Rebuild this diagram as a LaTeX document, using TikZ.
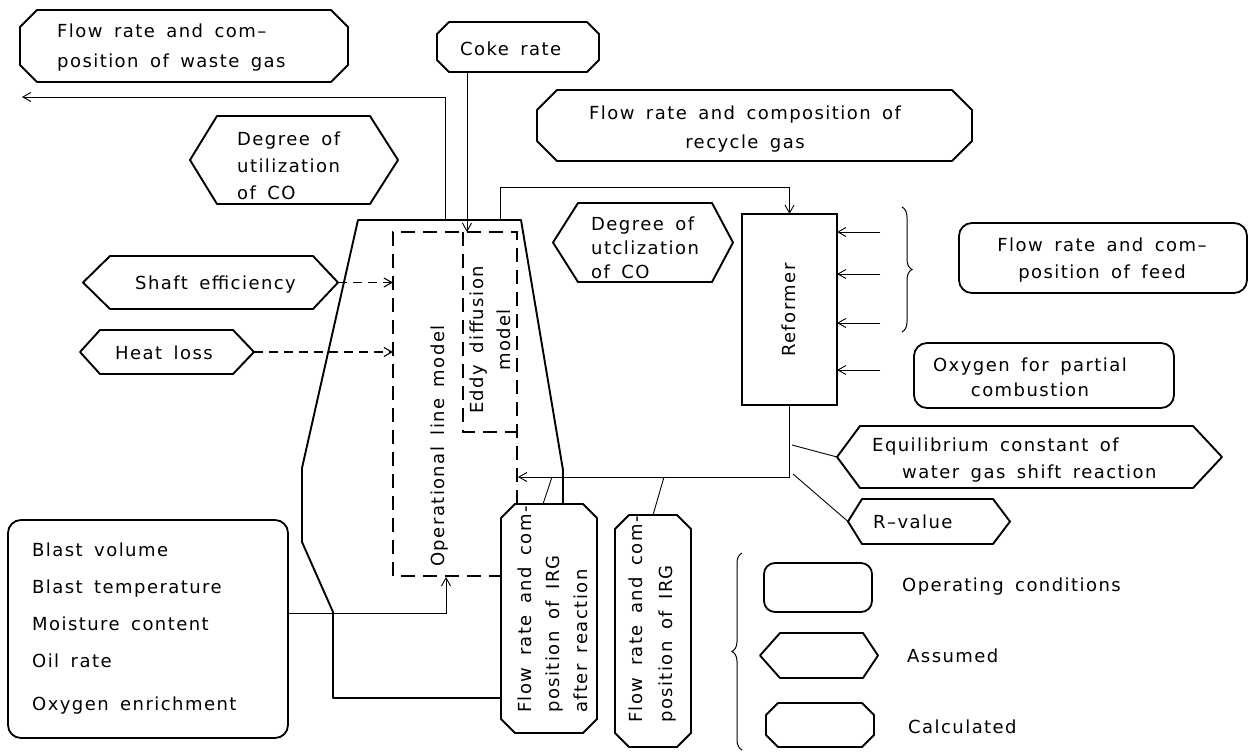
\documentclass[tikz,border=0pt]{standalone}
\usepackage{fontspec}
\setmainfont{DejaVu Sans}[LetterSpace=8,WordSpace=1.6]
\usetikzlibrary{arrows.meta,decorations.pathreplacing,calc}
\tikzset{
  box/.style={inner sep=0pt, outer sep=0pt},
  opbox/.style={box, draw, line width=1.8pt, rounded corners=13pt},
  outline/.style={line width=1.9pt, line join=round},
  conn/.style={line width=0.9pt},
  arr/.style={conn, -{Straight Barb[length=8pt,width=9pt]}},
  dasharr/.style={line width=1.1pt, dash pattern=on 9pt off 6pt, -{Straight Barb[length=8pt,width=9pt]}},
  modelline/.style={line width=2pt, dash pattern=on 14pt off 8pt},
  txt/.style={inner sep=0pt, align=left},
  brc/.style={line width=1pt, decorate, decoration={brace, amplitude=10pt}},
}
\newcommand\octobox[2]{\draw[outline] ([xshift=#2]#1.north west) -- ([xshift=-#2]#1.north east) -- ([yshift=-#2]#1.north east) -- ([yshift=#2]#1.south east) -- ([xshift=-#2]#1.south east) -- ([xshift=#2]#1.south west) -- ([yshift=#2]#1.south west) -- ([yshift=-#2]#1.north west) -- cycle;}
\newcommand\hexbox[3]{\draw[outline] ([xshift=#2]#1.north west) -- ([xshift=-#3]#1.north east) -- (#1.east) -- ([xshift=-#3]#1.south east) -- ([xshift=#2]#1.south west) -- (#1.west) -- cycle;}
\begin{document}
\begin{tikzpicture}[x=1pt,y=-1pt,font=\fontsize{18}{27}\selectfont]
\useasboundingbox (0,0) rectangle (1250,752);

% ---------- box frames ----------
\node[box, minimum width=328pt, minimum height=72pt] (waste) at (184,46) {};
\octobox{waste}{17pt}
\node[box, minimum width=162pt, minimum height=50pt] (coke) at (518,47) {};
\octobox{coke}{12pt}
\node[box, minimum width=435pt, minimum height=71pt] (recycle) at (754.5,125.5) {};
\octobox{recycle}{20pt}
\node[box, minimum width=208pt, minimum height=88pt] (utilL) at (294,160) {};
\hexbox{utilL}{27pt}{28pt}
\node[box, minimum width=180pt, minimum height=79pt] (utilR) at (643,242.5) {};
\hexbox{utilR}{25pt}{21pt}
\node[box, minimum width=255pt, minimum height=53pt] (shaft) at (210.5,282.5) {};
\hexbox{shaft}{27pt}{25pt}
\node[box, minimum width=174pt, minimum height=44pt] (heat) at (167,352) {};
\hexbox{heat}{20pt}{21pt}
\node[opbox, minimum width=280pt, minimum height=218pt] (blast) at (148,629) {};
\node[box, draw, line width=1.9pt, minimum width=95pt, minimum height=191pt] (reformer) at (789.5,309.5) {};
\node[opbox, minimum width=288pt, minimum height=70pt] (feed) at (1103,258) {};
\node[opbox, minimum width=260pt, minimum height=65pt] (oxygen) at (1044,375.5) {};
\node[box, minimum width=385pt, minimum height=62pt] (equil) at (1029.5,457) {};
\hexbox{equil}{23pt}{29pt}
\node[box, minimum width=162pt, minimum height=45pt] (rval) at (929,521.5) {};
\hexbox{rval}{14pt}{17pt}
\node[box, minimum width=96pt, minimum height=229pt] (irgA) at (549,618.5) {};
\octobox{irgA}{14pt}
\node[box, minimum width=76pt, minimum height=232pt] (irg) at (653,631) {};
\octobox{irg}{14pt}
% legend
\node[opbox, rounded corners=11pt, minimum width=108pt, minimum height=49pt] (legop) at (818,587.5) {};
\node[box, minimum width=118pt, minimum height=45pt] (legas) at (819,655.5) {};
\hexbox{legas}{20pt}{15pt}
\node[box, minimum width=108pt, minimum height=44pt] (legcalc) at (820,725) {};
\octobox{legcalc}{12pt}

% ---------- texts ----------
\node[txt, anchor=west, font=\fontsize{18}{30}\selectfont] (wasteT) at (57,48) {Flow rate and com–\\position of waste gas};
\node[txt, anchor=west] (cokeT) at (460,49) {Coke rate};
\node[txt, align=center, font=\fontsize{18}{29}\selectfont] (recycleT) at (745,129) {Flow rate and composition of\\recycle gas};
\node[txt, anchor=west] (utilLT) at (237,166) {Degree of\\utilization\\of CO};
\node[txt, anchor=west, font=\fontsize{18}{24}\selectfont] (utilRT) at (591,248) {Degree of\\utclization\\of CO};
\node[txt, anchor=west] (shaftT) at (135,285) {Shaft efficiency};
\node[txt, anchor=west] (heatT) at (115,353) {Heat loss};
\node[txt, anchor=west, font=\fontsize{18}{37}\selectfont] (blastT) at (32,629) {Blast volume\\Blast temperature\\Moisture content\\Oil rate\\[6pt]Oxygen enrichment};
\node[txt, rotate=90] (reformerT) at (789,310) {Reformer};
\node[txt, align=center] (feedT) at (1102,260) {Flow rate and com–\\position of feed};
\node[txt, align=center, font=\fontsize{18}{25}\selectfont] (oxygenT) at (1030,377) {Oxygen for partial\\combustion};
\node[txt, anchor=west] (equilT) at (872,460) {Equilibrium constant of\\\hspace*{30pt}water gas shift reaction};
\node[txt, anchor=west] (rvalT) at (873,522) {R–value};
\node[txt, rotate=90, anchor=west, font=\fontsize{18}{28}\selectfont] (irgAT) at (553,713) {Flow rate and com-\\position of IRG\\after reaction};
\node[txt, rotate=90, anchor=west, font=\fontsize{18}{30}\selectfont] (irgT) at (653,723) {Flow rate and com-\\position of IRG};
\node[txt, rotate=90] (oplT) at (440,446) {Operational line model};
\node[txt, rotate=90, align=center] (eddyT) at (490,340) {Eddy diffusion\\model};
\node[txt, anchor=west] (legopT) at (902,587) {Operating conditions};
\node[txt, anchor=west] (legasT) at (907,656) {Assumed};
\node[txt, anchor=west] (legcalcT) at (908,727) {Calculated};

% ---------- furnace outline ----------
\coordinate (fb) at (333,698);
\coordinate (fr) at (563,470);
\draw[outline] (fb -| irgA.west) -- (fb) -- (333,612) -- (302,542) -- (302,468) -- (358,220) -- (521,220) -- (fr) -- (fr |- irgA.north);

% ---------- model boxes (dashed) ----------
\coordinate (mtl) at (393,232);
\coordinate (mtr) at (517,232);
\coordinate (mbl) at (393,576);
\draw[modelline] (mtr |- irgA.north) -- (mtr) -- (mtl) -- (mbl) -- (mbl -| irgA.west);
\coordinate (etl) at (463,232);
\coordinate (ebl) at (463,432);
\draw[modelline] (etl) -- (ebl) -- (ebl -| mtr);

% ---------- connectors ----------
\coordinate (wtop) at (445,220);
\coordinate (wout) at (22,97);
\draw[arr] (wtop) |- (wout);
\coordinate (cokein) at (467,232);
\draw[arr] (coke.south -| cokein) -- (cokein);
\coordinate (rtop) at (500,220);
\draw[arr] (rtop) -- ++(0,-33) -| (reformer.north);
\foreach \yy in {232,274,323,370} {
  \coordinate (fin) at (880,\yy);
  \draw[arr] (fin) -- (fin -| reformer.east);
}
\draw[brc] (902,207) -- (902,332);
\coordinate (retend) at (518,477);
\draw[arr] (reformer.south) |- (retend);
\coordinate (l1) at (792,445);
\coordinate (l2) at (793,474);
\draw[conn] (l1) -- (equil.west);
\draw[conn] (l2) -- (rval.west);
\coordinate (ia) at (552,477);
\coordinate (ib) at (664,477);
\draw[conn] ([xshift=-6pt]irgA.north) -- (ia);
\draw[conn] (irg.north) -- (ib);
\coordinate (shin) at (393,282.5);
\coordinate (hlin) at (393,352);
\draw[dasharr] (shaft.east) -- (shin);
\draw[dasharr] (heat.east) -- (hlin);
\coordinate (bl) at (446,613);
\coordinate (opbot) at (446,577);
\draw[arr] (blast.east |- bl) -- (bl) -- (opbot);
% legend brace
\draw[brc] (742,750) -- (742,553);
\end{tikzpicture}
\end{document}
